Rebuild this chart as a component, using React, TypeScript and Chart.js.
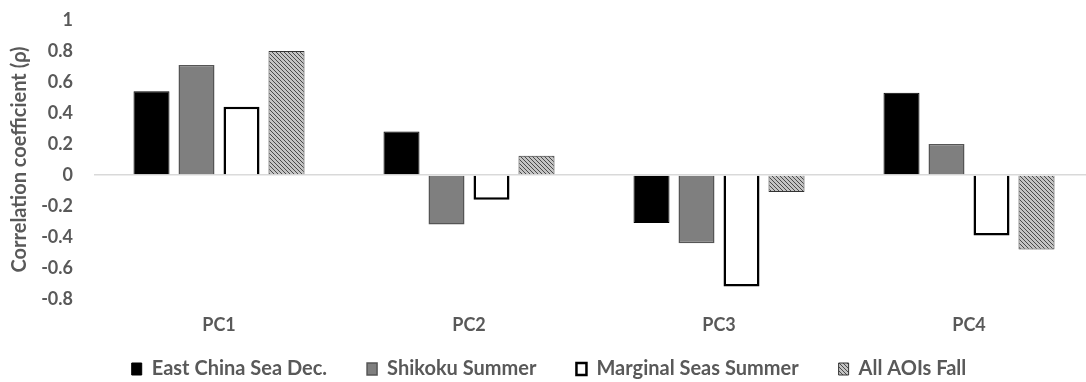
import React, { useEffect, useRef } from "react";
import { Chart, registerables } from "chart.js";

Chart.register(...registerables);

const categories = ["PC1", "PC2", "PC3", "PC4"];
const seriesNames = ["East China Sea Dec.", "Shikoku Summer", "Marginal Seas Summer", "All AOIs Fall"];
const eastChinaSeaDec = [0.54, 0.28, -0.31, 0.53];
const shikokuSummer = [0.71, -0.32, -0.44, 0.2];
const marginalSeasSummer = [0.44, -0.16, -0.72, -0.39];
const allAOIsFall = [0.8, 0.125, -0.11, -0.48];
const yMin = -0.8;
const yMax = 1;
const yStep = 0.2;
const yTitle = "Correlation coefficient (\u03c1)";

const FONT = "Lato, 'Open Sans', sans-serif";
const TEXT = "#595959";

function makeHatch(): CanvasPattern | string {
  const c = document.createElement("canvas");
  c.width = 4;
  c.height = 4;
  const g = c.getContext("2d");
  if (!g) return "#999";
  g.fillStyle = "#c4c4c4";
  g.fillRect(0, 0, 4, 4);
  g.fillStyle = "#4a4a4a";
  for (let i = 0; i < 4; i++) g.fillRect(i, i, 1, 1);
  return g.createPattern(c, "repeat") || "#999";
}

const legendShift = {
  id: "legendShift",
  afterLayout(chart: any) {
    const l = chart.legend;
    if (l) {
      l.top -= 20;
      l.bottom -= 20;
    }
  },
};

export default function App() {
  const ref = useRef<HTMLCanvasElement | null>(null);

  useEffect(() => {
    document.body.style.margin = "0";
    const canvas = ref.current;
    if (!canvas) return;
    const hatch = makeHatch();
    const common = { categoryPercentage: 0.72, barPercentage: 0.8 };
    const chart = new Chart(canvas, {
      type: "bar",
      data: {
        labels: categories,
        datasets: [
          { label: seriesNames[0], data: eastChinaSeaDec, backgroundColor: "#000000", borderColor: "#000000", borderWidth: 1, ...common },
          { label: seriesNames[1], data: shikokuSummer, backgroundColor: "#7f7f7f", borderColor: "#555555", borderWidth: 1.5, ...common },
          { label: seriesNames[2], data: marginalSeasSummer, backgroundColor: "#ffffff", borderColor: "#000000", borderWidth: 2.5, ...common },
          { label: seriesNames[3], data: allAOIsFall, backgroundColor: hatch as any, borderColor: "#333333", borderWidth: 1, ...common },
        ],
      },
      plugins: [legendShift],
      options: {
        animation: false,
        responsive: false,
        maintainAspectRatio: false,
        layout: { padding: { top: 20, right: 0, bottom: -27, left: 4 } },
        plugins: {
          tooltip: { enabled: false },
          legend: {
            position: "bottom",
            labels: {
              boxWidth: 10,
              boxHeight: 12,
              padding: 40,
              color: TEXT,
              font: { family: FONT, size: 20, weight: "bold" },
            },
          },
        },
        scales: {
          x: {
            grid: { display: false, drawTicks: false },
            border: { display: false },
            afterFit: (scale: any) => {
              scale.height = 40;
              scale.paddingLeft = 0;
              scale.paddingRight = 0;
            },
            ticks: { color: TEXT, padding: 15, font: { family: FONT, size: 18, weight: "bold" } },
          },
          y: {
            min: yMin,
            max: yMax,
            afterFit: (scale: any) => {
              scale.width = 90;
              scale.paddingTop = 11;
              scale.paddingBottom = 11;
            },
            ticks: {
              stepSize: yStep,
              padding: 21,
              color: TEXT,
              font: { family: FONT, size: 18, weight: "bold" },
              callback: (v: any) => String(Number(Number(v).toFixed(1))),
            },
            grid: {
              drawTicks: false,
              color: (ctx: any) => (ctx.tick && Math.abs(ctx.tick.value) < 1e-9 ? "#d9d9d9" : "rgba(0,0,0,0)"),
              lineWidth: 1.5,
            },
            border: { display: false },
            title: {
              display: true,
              text: yTitle,
              color: TEXT,
              font: { family: FONT, size: 20, weight: "bold" },
              padding: { top: 4, bottom: 4 },
            },
          },
        },
      },
    });
    return () => chart.destroy();
  }, []);

  return (
    <div style={{ width: 1086, height: 382, overflow: "hidden" }}>
      <canvas ref={ref} width={1094} height={382} style={{ display: "block" }} />
    </div>
  );
}
